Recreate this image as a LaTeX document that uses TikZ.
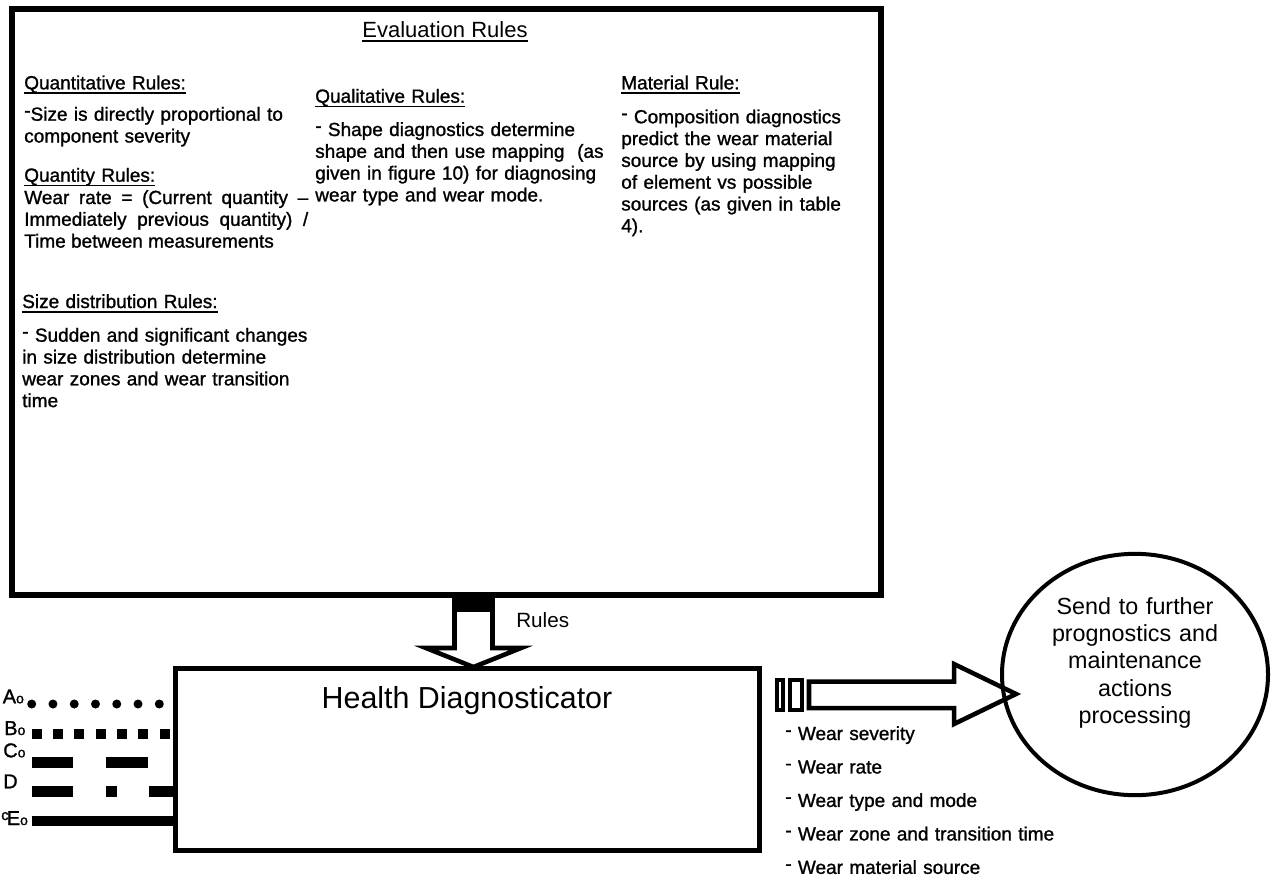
\documentclass[tikz,border=0pt]{standalone}
\usepackage{fontspec}
\setmainfont{Liberation Sans}
\newfontfamily\bodyfont{Liberation Sans}[FakeBold=1.2, Ligatures=TeX]
\usetikzlibrary{shapes.geometric}
% underline at a fixed distance below the baseline
\newcommand\uln[1]{\setbox0\hbox{#1}\rlap{\rule[-3.4pt]{\wd0}{1.1pt}}\box0}
% raised short dash used as a bullet
\newcommand\hy{\raisebox{0.2em}{-}}
\begin{document}
\begin{tikzpicture}[x=0.75pt,y=-0.75pt,
  frame/.style={draw, line width=4pt, inner sep=0pt},
  body/.style={inner sep=0pt, anchor=base west, align=left, text width=235pt,
    font=\bodyfont\fontsize{14.25}{16.35}\selectfont},
  blockarrow/.style={draw, line width=3.4pt, line join=miter, fill=white},
  dotline/.style={line width=6.75pt, line cap=round, dash pattern=on 0pt off 15.95pt},
  sqline/.style={line width=7.5pt, dash pattern=on 7.5pt off 8.5pt},
  cline/.style={line width=8.25pt, dash pattern=on 31.2pt off 24.5pt},
  dline/.style={line width=8.25pt, dash pattern=on 31.2pt off 24.5pt on 8pt off 24.2pt},
  eline/.style={line width=7.5pt},
  lbl/.style={inner sep=0pt, anchor=base west, font=\bodyfont\fontsize{15}{17}\selectfont},
  subo/.style={font=\bodyfont\fontsize{10.5}{11}\selectfont}]
\useasboundingbox (0,0) rectangle (1276,882);

% ---- Evaluation rules box ----
\node[frame, minimum width=651.75pt, minimum height=439.5pt] (er) at (446.5,302) {};
\node[inner sep=0pt, anchor=base, font=\fontsize{16.5}{19}\selectfont] (ertitle) at (445,37) {\uln{Evaluation Rules}};

% quantitative column
\node[body] (qh) at (24,89.3) {\uln{Quantitative Rules:}};
\node[body] (qt) at (24,120.7) {\hy Size is directly proportional to\\component severity};
\node[body] (qyh) at (24,181.7) {\uln{Quantity Rules:}};
\node[body, text width=213pt, align=justify] (qyt) at (24,204)
  {Wear rate = (Current quantity –\linebreak Immediately previous quantity) /\linebreak Time between measurements};
\node[body] (sh) at (22,308) {\uln{Size distribution Rules:}};
\node[body] (st) at (22,341.7) {\hy{} Sudden and significant changes\\in size distribution determine\\wear zones and wear transition\\time};

% qualitative column
\node[body] (lh) at (315,102.7) {\uln{Qualitative Rules:}};
\node[body] (lt) at (315,136) {\hy{} Shape diagnostics determine\\shape and then use mapping\ \ (as\\given in figure 10) for diagnosing\\wear type and wear mode.};

% material column
\node[body] (mh) at (621,89.3) {\uln{Material Rule:}};
\node[body] (mt) at (621,123.3) {\hy{} Composition diagnostics\\predict the wear material\\source by using mapping\\of element vs possible\\sources (as given in table\\4).};

% ---- Health diagnosticator box ----
\node[frame, minimum width=438pt, minimum height=136.5pt] (hd) at (467.5,759.5) {};
\node[inner sep=0pt, anchor=base, font=\fontsize{22.8}{26}\selectfont] (hdtitle) at (467,708) {Health Diagnosticator};

% ---- rules arrow between the boxes ----
\fill (452,597) rectangle (495,612);
\draw[blockarrow] (454.5,612) -- (454.5,648) -- (426,648) -- (473.5,667) -- (521,648)
  -- (492.5,648) -- (492.5,612);
\draw[line width=3.4pt] (454.5,610) -- (454.5,650) (492.5,610) -- (492.5,650);
\node[inner sep=0pt, anchor=base west, font=\fontsize{15.5}{18}\selectfont] (rl) at (516,627) {Rules};

% ---- input signals ----
\node[lbl] (la) at (2.5,703.3) {A\tikz[baseline]\node[subo,inner sep=0pt,anchor=base west]{o};};
\node[lbl] (lb) at (4,735) {B\tikz[baseline]\node[subo,inner sep=0pt,anchor=base west]{o};};
\node[lbl] (lc) at (3,757.3) {C\tikz[baseline]\node[subo,inner sep=0pt,anchor=base west]{o};};
\node[lbl] (ld) at (3,788.3) {D};
\node[lbl, font=\bodyfont\fontsize{11}{12}\selectfont] (lec) at (1,820) {c};
\node[lbl] (le) at (6.5,825) {E\tikz[baseline]\node[subo,inner sep=0pt,anchor=base west]{o};};

\coordinate (a0) at (31.7,704);
\coordinate (a1) at (166,704);
\coordinate (b0) at (31.7,734);
\coordinate (c0) at (31.7,762.8);
\coordinate (d0) at (31.7,791.7);
\coordinate (e0) at (31.7,820.7);
\draw[dotline] (a0) -- (a1);
\draw[sqline] (b0) -- (b0 -| hd.west);
\draw[cline] (c0) -- (c0 -| hd.west);
\draw[dline] (d0) -- (d0 -| hd.west);
\draw[eline] (e0) -- (e0 -| hd.west);

% ---- output arrow ----
\draw[line width=3pt] (776.5,679.5) rectangle (782.5,709.5);
\draw[line width=3pt] (790,679.5) rectangle (801.5,709.5);
\draw[blockarrow] (809,681.7) -- (954,681.7) -- (954,664) -- (1016,694) -- (954,724)
  -- (954,708.2) -- (809,708.2) -- cycle;

% ---- output list ----
\node[body, font=\bodyfont\fontsize{14.25}{25.1}\selectfont] (out) at (785,740)
  {\hy{} Wear severity\\\hy{} Wear rate\\\hy{} Wear type and mode\\\hy{} Wear zone and transition time\\\hy{} Wear material source};

% ---- downstream processing ----
\node[draw, ellipse, line width=3pt, minimum width=199.5pt, minimum height=181pt] (circ) at (1135,674.5) {};
\node[inner sep=0pt, anchor=base, align=center, text width=150pt,
  font=\fontsize{17.5}{20.6}\selectfont] (ct) at (1135,614)
  {Send to further\\prognostics and\\maintenance\\actions\\processing};
\end{tikzpicture}
\end{document}
